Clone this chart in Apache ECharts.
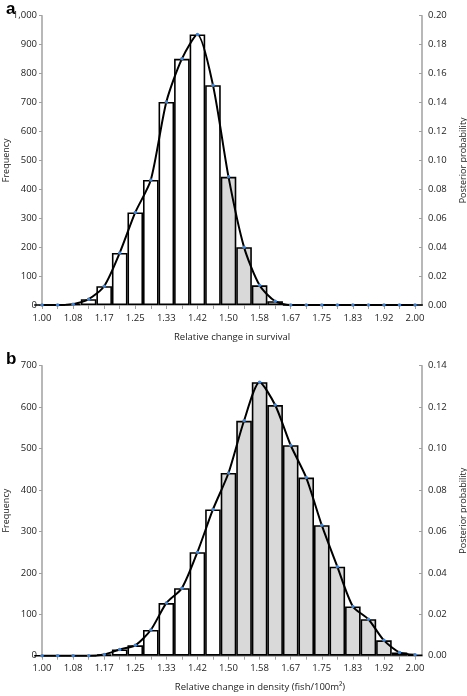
<!DOCTYPE html>
<html>
<head>
<meta charset="utf-8">
<script src="https://cdn.jsdelivr.net/npm/echarts@6/dist/echarts.min.js"></script>
<style>
html,body{margin:0;padding:0;background:#fff;}
#chart{width:467px;height:696px;}
</style>
</head>
<body>
<div id="chart"></div>
<script>
// Category centres (relative change), 25 bins from 1.00 to 2.00
const categories = ['1.00','1.04','1.08','1.13','1.17','1.21','1.25','1.29','1.33','1.38','1.42','1.46','1.50','1.54','1.58','1.63','1.67','1.71','1.75','1.79','1.83','1.88','1.92','1.96','2.00'];
const tickLabels = ['1.00','1.08','1.17','1.25','1.33','1.42','1.50','1.58','1.67','1.75','1.83','1.92','2.00'];
const shadeFromCategory = '1.50';

// Panel a: relative change in survival
const survivalFreq = [0,0,3,20,65,180,320,432,702,851,935,760,443,200,68,13,0,0,0,0,0,0,0,0,0];
const survivalProb = [0,0,0.0006,0.004,0.013,0.036,0.064,0.0864,0.1404,0.1702,0.187,0.152,0.0886,0.04,0.0136,0.0026,0,0,0,0,0,0,0,0,0];

// Panel b: relative change in density
const densityFreq = [0,0,0,0,3,15,25,62,127,163,250,353,441,567,660,605,508,430,315,215,119,88,37,8,2];
const densityProb = [0,0,0,0,0.0006,0.003,0.005,0.0124,0.0254,0.0326,0.05,0.0706,0.0882,0.1134,0.132,0.121,0.1016,0.086,0.063,0.043,0.0238,0.0176,0.0074,0.0016,0.0004];

const FONT = 'Open Sans';
const shadeIdx = categories.indexOf(shadeFromCategory);
const AX = '#a0a0a0';

function xAxisFor(gridIndex, name, namePad) {
  return {
    type: 'value', gridIndex, min: 0, max: 24.45, interval: 1,
    name, nameLocation: 'middle', nameGap: 27, nameMoveOverlap: false,
    nameTextStyle: {fontFamily: FONT, fontSize: 9.5, color: '#222', padding: namePad},
    axisLine: {show: true, onZero: false, lineStyle: {color: AX, width: 1.5}},
    axisTick: {show: true, length: 4, lineStyle: {color: AX, width: 1}},
    splitLine: {show: false},
    axisLabel: {
      margin: 8, fontFamily: FONT, fontSize: 9.5, color: '#222', showMaxLabel: false,
      formatter: v => (Number.isInteger(v) && v % 2 === 0) ? tickLabels[v / 2] : ''
    }
  };
}
function yLeft(gridIndex, max, interval) {
  return {
    type: 'value', gridIndex, min: 0, max, interval, position: 'left',
    name: 'Frequency', nameLocation: 'middle', nameGap: 31, nameRotate: 90, nameMoveOverlap: false,
    nameTextStyle: {fontFamily: FONT, fontSize: 9, color: '#222'},
    axisLine: {show: true, lineStyle: {color: AX, width: 1.5}},
    axisTick: {show: true, length: 3, lineStyle: {color: AX}},
    splitLine: {show: false},
    axisLabel: {margin: 5, fontFamily: FONT, fontSize: 9.5, color: '#222',
      formatter: v => v.toLocaleString('en-US')}
  };
}
function yRight(gridIndex, max) {
  return {
    type: 'value', gridIndex, min: 0, max, interval: 0.02, position: 'right',
    name: 'Posterior probability', nameLocation: 'middle', nameGap: 37, nameRotate: 90, nameMoveOverlap: false,
    nameTextStyle: {fontFamily: FONT, fontSize: 9, color: '#222'},
    axisLine: {show: true, lineStyle: {color: AX, width: 1.5}},
    axisTick: {show: true, inside: true, length: 3, lineStyle: {color: AX}},
    splitLine: {show: false},
    axisLabel: {margin: 6, fontFamily: FONT, fontSize: 9.5, color: '#222',
      formatter: v => v.toFixed(2)}
  };
}
function barSeries(xi, yi, freq) {
  return {
    type: 'bar', xAxisIndex: xi, yAxisIndex: yi, barWidth: 15.6, barMinWidth: 15.6,
    barCategoryGap: '0%', barGap: '0%', z: 2,
    data: freq.map((f, i) => ({
      value: [i, f],
      itemStyle: {color: i >= shadeIdx ? '#d9d9d9' : '#ffffff', borderColor: '#000', borderWidth: 1.6}
    })),
    animation: false
  };
}
function lineSeries(xi, yi, prob) {
  return {
    type: 'line', xAxisIndex: xi, yAxisIndex: yi, smooth: 0.25, z: 5,
    data: prob.map((p, i) => [i, p]),
    symbol: 'circle', symbolSize: 3.5, showSymbol: true,
    itemStyle: {color: '#4f81bd', borderWidth: 0},
    lineStyle: {color: '#000', width: 2},
    animation: false
  };
}

const chart = echarts.init(document.getElementById('chart'), null, {renderer: 'canvas'});
chart.setOption({
  backgroundColor: '#fff',
  animation: false,
  title: [
    {text: 'a', left: 1, top: -4, textStyle: {fontFamily: 'Liberation Sans', fontSize: 17, fontWeight: 'bold', color: '#000'}},
    {text: 'b', left: 1, top: 346, textStyle: {fontFamily: 'Liberation Sans', fontSize: 17, fontWeight: 'bold', color: '#000'}}
  ],
  grid: [
    {left: 42, right: 45, top: 15.7, height: 289.3, containLabel: false, outerBoundsMode: 'none'},
    {left: 42, right: 45, top: 365.7, height: 290, containLabel: false, outerBoundsMode: 'none'}
  ],
  xAxis: [
    xAxisFor(0, 'Relative change in survival', [0, 0, 0, 0]),
    xAxisFor(1, 'Relative change in density (fish/100m²)', [0, 0, 0, 56])
  ],
  yAxis: [
    yLeft(0, 1000, 100), yRight(0, 0.20),
    yLeft(1, 700, 100), yRight(1, 0.14)
  ],
  series: [
    barSeries(0, 0, survivalFreq),
    lineSeries(0, 1, survivalProb),
    barSeries(1, 2, densityFreq),
    lineSeries(1, 3, densityProb)
  ]
});
</script>
</body>
</html>
